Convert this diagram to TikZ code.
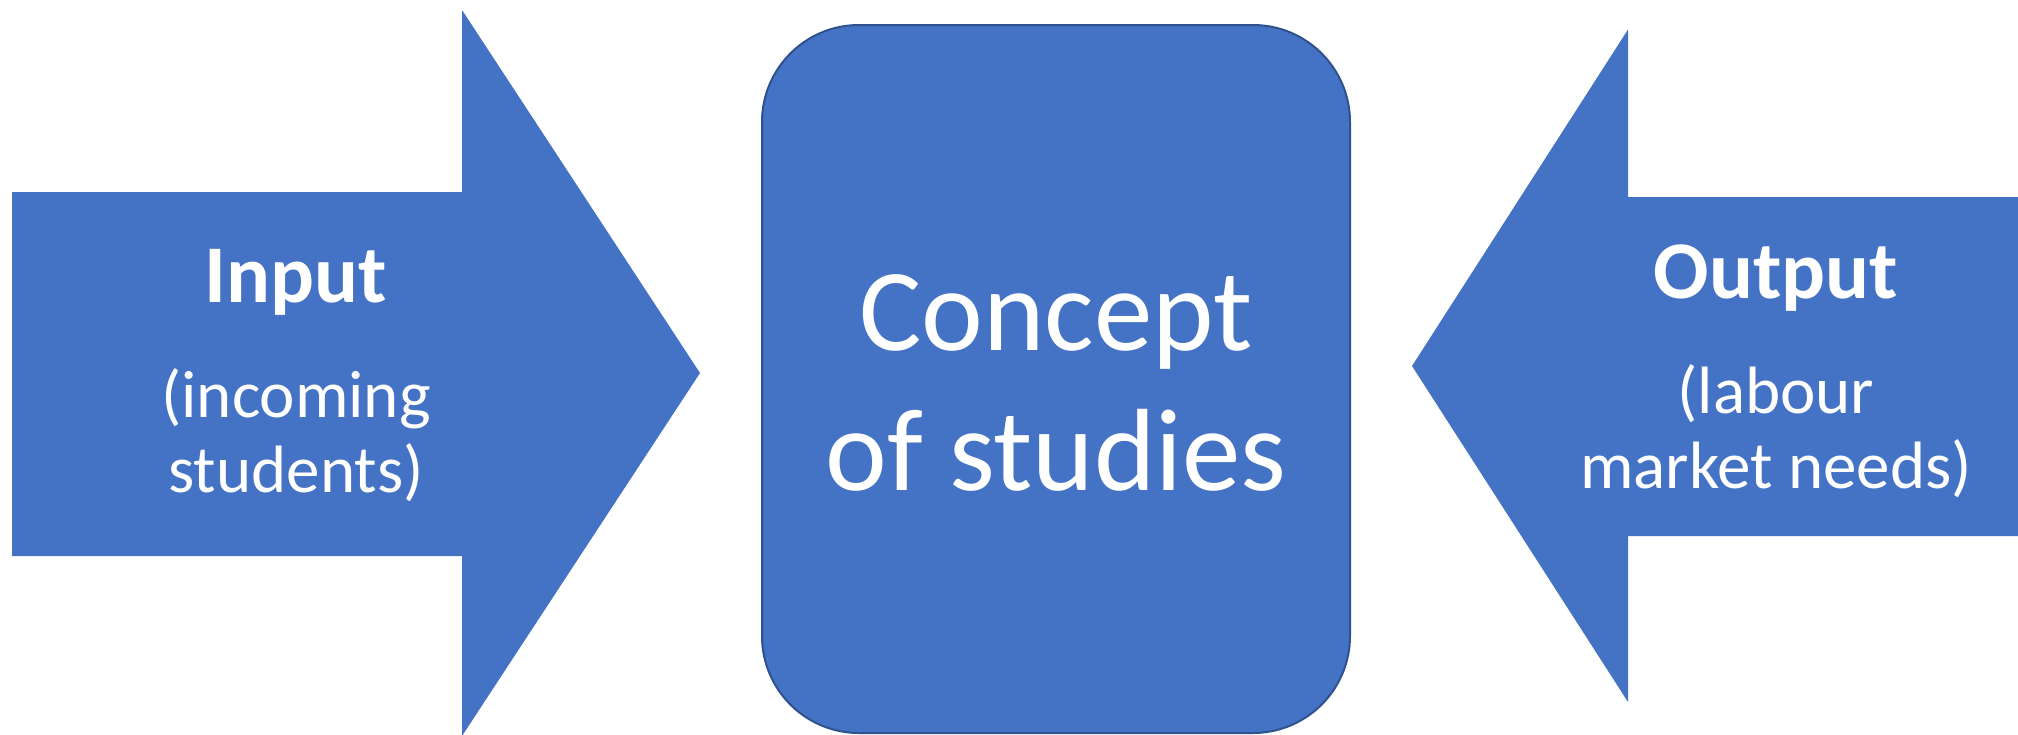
\documentclass[tikz,border=0pt]{standalone}
\usepackage{fontspec}
\setmainfont{Carlito}
\definecolor{acc}{HTML}{4472C4}
\definecolor{accdark}{HTML}{2F528F}
\begin{document}
\begin{tikzpicture}[x=0.5pt,y=-0.5pt,
  arrowfill/.style={fill=acc},
  boxstyle/.style={draw=accdark, fill=acc, line width=1pt, rounded corners=48.5pt,
    minimum width=294pt, minimum height=354pt, inner sep=0pt},
  lbl/.style={text=white, align=center, inner sep=0pt, anchor=base,
    font=\fontsize{33.5}{37.5}\selectfont},
  bigl/.style={lbl, font=\fontsize{58.5}{70}\selectfont}]
\useasboundingbox (0,0) rectangle (2018,734);
% left arrow (input)
\fill[arrowfill] (12,192) -- (462,192) -- (462,10) -- (700,373) -- (462,736)
  -- (462,556) -- (12,556) -- cycle;
% right arrow (output)
\fill[arrowfill] (2030,197) -- (1628,197) -- (1628,29.5) -- (1412,366)
  -- (1628,702) -- (1628,536) -- (2030,536) -- cycle;
% central box
\node[boxstyle] (concept) at (1056,379) {};
% labels (base anchor = baseline of the last line)
\node[lbl] (inputlbl) at (296,492)
  {{\fontsize{41}{41}\selectfont\bfseries Input}\\[20pt](incoming\\students)};
\node[bigl] (conceptlbl) at (1056,490) {Concept\\of studies};
\node[lbl] (outputlbl) at (1776,488)
  {{\fontsize{41}{41}\selectfont\bfseries Output}\\[20pt](labour\\market needs)};
\end{tikzpicture}
\end{document}
